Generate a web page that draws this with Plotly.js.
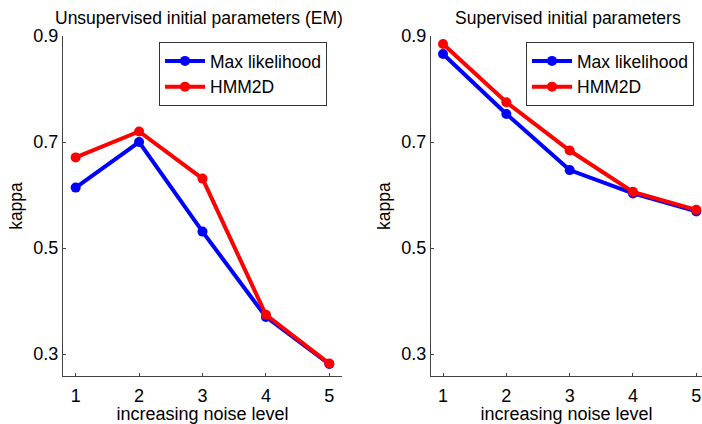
<!DOCTYPE html>
<html>
<head>
<meta charset="utf-8">
<script src="https://cdn.plot.ly/plotly-3.0.1.min.js"></script>
<style>html,body{margin:0;padding:0;background:#fff;overflow:hidden}</style>
</head>
<body>
<div id="chart" style="width:702px;height:424px"></div>
<script>
var noiseLevels = [1, 2, 3, 4, 5];
var unsupMaxLik = [0.614, 0.700, 0.531, 0.370, 0.281];
var unsupHMM2D = [0.671, 0.720, 0.631, 0.374, 0.282];
var supMaxLik = [0.866, 0.753, 0.647, 0.603, 0.569];
var supHMM2D = [0.885, 0.775, 0.684, 0.606, 0.572];
var yTicks = [0.3, 0.5, 0.7, 0.9];
var yTickLabels = ['0.3', '0.5', '0.7', '0.9'];
var leftTitle = 'Unsupervised initial parameters (EM)';
var rightTitle = 'Supervised initial parameters';
var xLabel = 'increasing noise level';
var yLabel = 'kappa';

var BLUE = '#0000ff', RED = '#ff0000';
function tr(y, name, color, xa, ya, leg) {
  return {x: noiseLevels, y: y, name: name, type: 'scatter', mode: 'lines+markers',
    xaxis: xa, yaxis: ya, legend: leg,
    line: {color: color, width: 4}, marker: {color: color, size: 10}};
}
var data = [
  tr(unsupMaxLik, 'Max likelihood', BLUE, 'x', 'y', 'legend'),
  tr(unsupHMM2D, 'HMM2D', RED, 'x', 'y', 'legend'),
  tr(supMaxLik, 'Max likelihood', BLUE, 'x2', 'y2', 'legend2'),
  tr(supHMM2D, 'HMM2D', RED, 'x2', 'y2', 'legend2')
];
var font = {family: 'Liberation Sans, Arial, sans-serif', size: 17, color: '#000'};
function xax(domain, range) {
  return {domain: domain, range: range, tickvals: noiseLevels, ticktext: noiseLevels.map(String),
    ticks: 'inside', ticklen: 3, tickcolor: '#444', showline: true, linecolor: '#444', linewidth: 1,
    showgrid: false, zeroline: false, tickfont: {size: 18}, ticklabelstandoff: 3,
    title: {text: xLabel, font: {size: 18}, standoff: 4}};
}
function yax(anchor) {
  return {domain: [0.1132, 0.915], range: [0.2585, 0.9], tickvals: yTicks, ticktext: yTickLabels,
    ticks: 'inside', ticklen: 3, tickcolor: '#444', showline: true, linecolor: '#444', linewidth: 1,
    showgrid: false, zeroline: false, tickfont: {size: 18}, anchor: anchor,
    title: {text: yLabel, font: {size: 17.5}, standoff: 6}};
}
var legendBase = {bgcolor: '#fff', bordercolor: '#333', borderwidth: 1, font: {size: 17.5},
  xanchor: 'left', yanchor: 'top', tracegroupgap: 0, itemwidth: 40};
var layout = {
  width: 702, height: 424, margin: {l: 0, r: 0, t: 0, b: 0},
  paper_bgcolor: '#fff', plot_bgcolor: '#fff', font: font, showlegend: true,
  xaxis: Object.assign(xax([63/702, 342/702], [0.8, 5.2]), {anchor: 'y'}),
  yaxis: yax('x'),
  xaxis2: Object.assign(xax([431/702, 1], [0.81, 5.09]), {anchor: 'y2'}),
  yaxis2: yax('x2'),
  legend: Object.assign({x: 159/702, y: (424-42)/424}, legendBase),
  legend2: Object.assign({x: 526/702, y: (424-42)/424}, legendBase),
  annotations: [
    {text: leftTitle, xref: 'paper', yref: 'paper', x: 199/702, y: (424-18)/424, xanchor: 'center', yanchor: 'middle', showarrow: false, font: {size: 17.5}},
    {text: rightTitle, xref: 'paper', yref: 'paper', x: 568/702, y: (424-18)/424, xanchor: 'center', yanchor: 'middle', showarrow: false, font: {size: 17.5}}
  ]
};
Plotly.newPlot('chart', data, layout, {staticPlot: true});
</script>
</body>
</html>
